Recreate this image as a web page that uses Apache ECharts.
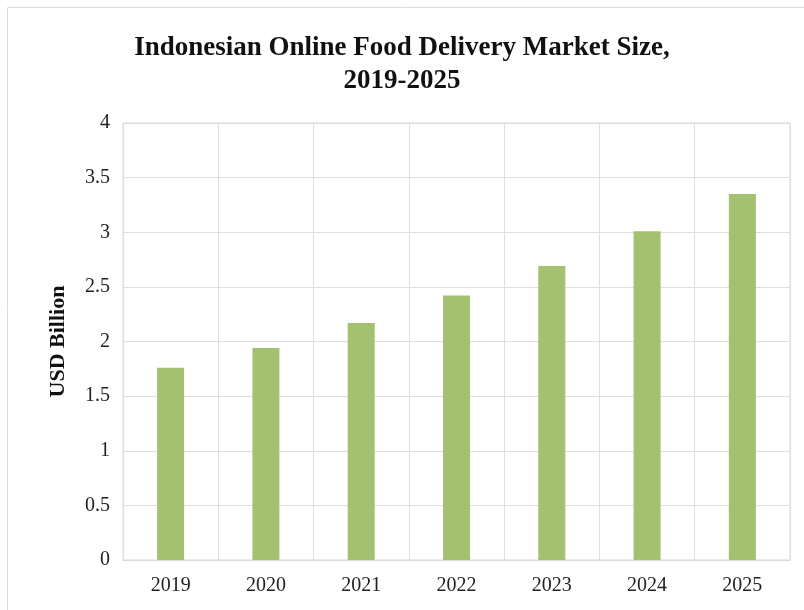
<!DOCTYPE html>
<html><head><meta charset="utf-8">
<script src="https://cdn.jsdelivr.net/npm/echarts@6/dist/echarts.min.js"></script>
<style>html,body{margin:0;padding:0;background:#fff}#c{width:804px;height:610px}</style>
</head><body><div id="c"></div>
<script>
const years = ['2019','2020','2021','2022','2023','2024','2025'];
const marketSize = [1.76, 1.94, 2.17, 2.42, 2.69, 3.01, 3.35];
const yTicks = [0, 0.5, 1, 1.5, 2, 2.5, 3, 3.5, 4];
const titleText = 'Indonesian Online Food Delivery Market Size,\n2019-2025';
const yName = 'USD Billion';

const chart = echarts.init(document.getElementById('c'));
const serif = '"Liberation Serif","Times New Roman",serif';
chart.setOption({
  backgroundColor: '#fff',
  animation: false,
  graphic: [{type:'rect', shape:{x:7.5,y:7.5,width:800,height:606}, style:{fill:'none', stroke:'#dcdcdc', lineWidth:1}, silent:true}],
  title: {
    text: titleText, left: 'center', top: 27,
    textStyle: {fontFamily: serif, fontWeight: 'bold', fontSize: 27, color: '#111', lineHeight: 33}
  },
  grid: {left: 123, right: 14, top: 123, bottom: 50, show: true, borderColor: '#d9d9d9', borderWidth: 1},
  xAxis: {
    type: 'category', data: years,
    axisLine: {show: true, lineStyle: {color: '#d9d9d9'}},
    axisTick: {show: false},
    splitLine: {show: true, interval: 0, lineStyle: {color: '#dedede'}},
    axisLabel: {fontFamily: serif, fontSize: 20, color: '#222', margin: 16}
  },
  yAxis: {
    type: 'value', min: yTicks[0], max: yTicks[yTicks.length-1], interval: 0.5,
    name: yName, nameLocation: 'middle', nameGap: 54, nameRotate: 90,
    nameTextStyle: {fontFamily: serif, fontWeight: 'bold', fontSize: 22, color: '#111'},
    axisLine: {show: false}, axisTick: {show: false},
    splitLine: {lineStyle: {color: '#dedede'}},
    axisLabel: {fontFamily: serif, fontSize: 20, color: '#222', margin: 13}
  },
  series: [{
    type: 'bar', data: marketSize, barWidth: 27,
    itemStyle: {color: '#a3c170'}
  }]
});
</script></body></html>
